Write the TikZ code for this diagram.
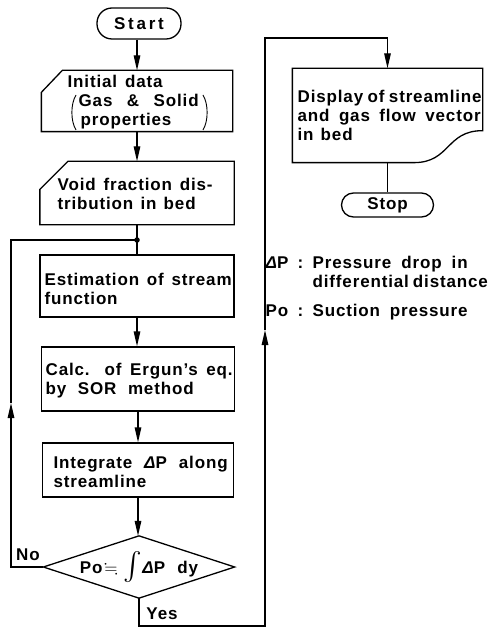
\documentclass[tikz,border=0pt]{standalone}
\usepackage{amssymb}
\usepackage{fontspec}
\setmainfont{Liberation Sans}[LetterSpace=5,WordSpace=1.1]
\usetikzlibrary{arrows.meta}
\newcommand{\jl}[2]{\makebox[#1][s]{#2}}
\begin{document}
\begin{tikzpicture}[x=1pt,y=-1pt,
  line width=1.3pt,
  lbl/.style={font=\bfseries\fontsize{17}{19}\selectfont},
  txt/.style={lbl, inner sep=0pt, align=left, anchor=west},
  frame/.style={draw, inner sep=0pt},
  shape0/.style={inner sep=0pt},
  term/.style={draw, lbl, inner sep=0pt},
  paren/.style={line width=0.9pt},
  arr/.style={-{Triangle[length=15pt,width=6.5pt]}},
]
\useasboundingbox (0,0) rectangle (496,628);

% Start
\node[term, rounded corners=15pt, minimum width=84pt, minimum height=31pt] (start) at (139,23.5) {\addfontfeatures{LetterSpace=16}Start};

% Initial data (manual input)
\node[shape0, minimum width=190pt, minimum height=60pt] (init) at (137,101) {};
\draw (init.south west) -- ([yshift=-22pt]init.north west) -- ([xshift=21pt]init.north west) -- (init.north east) -- (init.south east) -- cycle;
\node[txt] (initT) at (67,102.5) {\jl{95pt}{Initial data}\\\hspace*{11pt}\jl{120pt}{Gas \& Solid}\\\hspace*{13pt}properties};
\draw[paren] (76,95) .. controls (70.5,104) and (70.5,121) .. (76,130);
\draw[paren] (203,95) .. controls (208.5,104) and (208.5,121) .. (203,130);

% Void fraction (manual input)
\node[shape0, minimum width=193pt, minimum height=62pt] (void) at (137,193) {};
\draw (void.south west) -- ([yshift=-28pt]void.north west) -- ([xshift=28pt]void.north west) -- (void.north east) -- (void.south east) -- cycle;
\node[txt] (voidT) at (57,194) {\jl{155pt}{Void fraction dis-}\\\jl{138pt}{tribution in bed}};

% junction
\node[circle, fill, inner sep=0pt, minimum size=5.5pt] (dot) at (137,240) {};

% Estimation
\node[frame, minimum width=194pt, minimum height=62pt] (est) at (137,286) {};
\node[txt] (estT) at (44,289) {\jl{187pt}{Estimation of stream}\\function};

% Calc
\node[frame, minimum width=193pt, minimum height=64pt] (calc) at (138,379) {};
\node[txt] (calcT) at (45,381) {\jl{187pt}{Calc. of Ergun's eq.}\\\jl{148pt}{by SOR method}};

% Integrate
\node[frame, minimum width=191pt, minimum height=54pt] (integ) at (138,470) {};
\node[txt] (integT) at (53,472) {\jl{174pt}{Integrate {\itshape Δ}P along}\\streamline};

% Decision
\node[shape0, lbl, minimum width=190pt, minimum height=61pt] (dia) at (139,567) {Po\kern2pt$\fallingdotseq$\kern6pt{\fontsize{28}{28}\selectfont$\int$}\kern0pt{\itshape Δ}P\ \ dy};
\draw (dia.west) -- (dia.north) -- (dia.east) -- (dia.south) -- cycle;

% Display (document)
\node[shape0, minimum width=189pt, minimum height=93pt] (disp) at (387.5,115.5) {};
\draw (disp.south west) -- (disp.north west) -- (disp.north east) -- ([yshift=32pt]disp.south east)
  .. controls +(-37pt,0pt) and +(37pt,0pt) .. ([xshift=-69pt]disp.south east) -- cycle;
\node[txt] (dispT) at (297,115) {\jl{184pt}{Display of streamline}\\\jl{183pt}{and gas flow vector}\\\jl{55pt}{in bed}};

% Stop
\node[term, rounded corners=12pt, minimum width=92pt, minimum height=24pt] (stop) at (387.5,205) {Stop};

% Legend
\node[lbl, inner sep=0pt, anchor=north west] (leg) at (265,255) {%
\begin{tabular}{@{}p{30pt}@{}p{17pt}@{}l@{}}
{\itshape Δ}P & \hspace*{2pt}: & \jl{155pt}{Pressure drop in}\\
 & & \jl{175pt}{differential distance}\\[10pt]
Po & \hspace*{2pt}: & \jl{155pt}{Suction pressure}
\end{tabular}};

% labels
\node[lbl, inner sep=0pt] (no) at (28,555) {No};
\node[lbl, inner sep=0pt] (yes) at (162,614) {Yes};

% connectors
\coordinate (noup) at (11,403);
\coordinate (yesbot) at (265,626);
\coordinate (yesup) at (265,330);
\coordinate (yestop) at (265,38);

\draw[arr] (start.south -| init.north) -- (init.north);
\draw[arr] (init.south) -- (void.north);
\draw (void.south) -- (dot.center) -- (est.north);
\draw[arr] (est.south) -- (calc.north -| est.south);
\draw[arr] (calc.south) -- (integ.north);
\draw[arr] (integ.south) -- (dia.north -| integ.south);
\draw[arr] (dia.west) -| (noup);
\draw (noup) |- (dot.center);
\draw[arr] (dia.south) |- (yesbot) -- (yesup);
\draw[arr] (yesup) -- (yestop) -| (disp.north);
\draw (disp.south) -- (stop.north);
\end{tikzpicture}
\end{document}
